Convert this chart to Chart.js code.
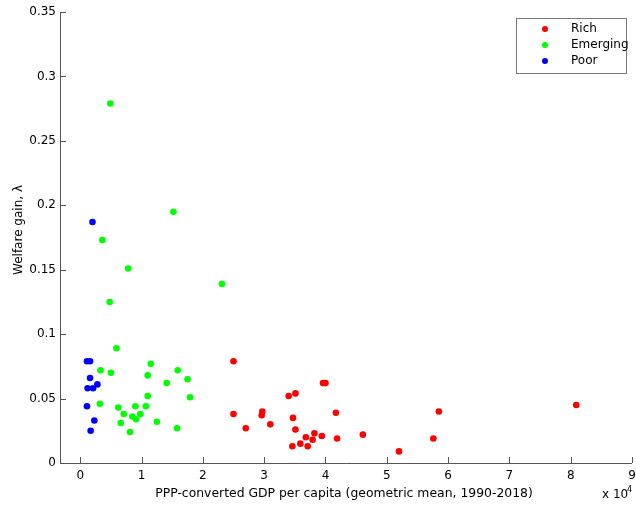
<!DOCTYPE html>
<html>
<head>
<meta charset="utf-8">
<script src="https://cdn.jsdelivr.net/npm/chart.js@4/dist/chart.umd.min.js"></script>
<style>
  html, body { margin: 0; padding: 0; background: #fff; }
  #wrap { width: 636px; height: 511px; position: relative; }
</style>
</head>
<body>
<div id="wrap"><canvas id="chart" width="636" height="511"></canvas></div>
<script>
// GDP per capita in units of 10^4, welfare gain lambda
const richX = [2.50, 2.50, 2.70, 2.97, 2.96, 3.10, 3.40, 3.51, 3.47, 3.51, 3.46, 3.59, 3.71, 3.68, 3.79, 3.82, 3.94, 3.96, 4.00, 4.17, 4.19, 4.61, 5.20, 5.76, 5.85, 8.09];
const richY = [0.079, 0.038, 0.027, 0.040, 0.037, 0.030, 0.052, 0.054, 0.035, 0.026, 0.013, 0.015, 0.013, 0.020, 0.018, 0.023, 0.021, 0.062, 0.062, 0.039, 0.019, 0.022, 0.009, 0.019, 0.040, 0.045];

const emergingX = [0.49, 1.52, 0.36, 0.78, 0.48, 2.31, 0.59, 0.33, 0.50, 1.15, 1.10, 1.59, 1.75, 1.41, 1.79, 1.10, 0.32, 0.62, 0.90, 1.07, 0.71, 0.85, 0.98, 0.91, 0.66, 1.25, 0.81, 1.58];
const emergingY = [0.279, 0.195, 0.173, 0.151, 0.125, 0.139, 0.089, 0.072, 0.070, 0.077, 0.068, 0.072, 0.065, 0.062, 0.051, 0.052, 0.046, 0.043, 0.044, 0.044, 0.038, 0.036, 0.038, 0.034, 0.031, 0.032, 0.024, 0.027];

const poorX = [0.11, 0.16, 0.16, 0.12, 0.21, 0.28, 0.11, 0.23, 0.17, 0.20];
const poorY = [0.079, 0.079, 0.066, 0.058, 0.058, 0.061, 0.044, 0.033, 0.025, 0.187];

const xTicks = [0, 1, 2, 3, 4, 5, 6, 7, 8, 9];
const yTicks = [0, 0.05, 0.1, 0.15, 0.2, 0.25, 0.3, 0.35];

const FONT = '"DejaVu Sans", sans-serif';
const AXIS = '#555';

function pts(xs, ys) {
  return xs.map((x, i) => ({ x: x, y: ys[i] }));
}

function set(label, xs, ys, color) {
  return {
    label: label,
    data: pts(xs, ys),
    backgroundColor: color,
    borderColor: color,
    pointRadius: 3.3,
    pointBorderWidth: 0,
  };
}

// inward ticks, titles, legend box
const decor = {
  id: 'decor',
  afterDraw(chart) {
    const c = chart.ctx;
    const a = chart.chartArea;
    const sx = chart.scales.x, sy = chart.scales.y;
    c.save();
    c.strokeStyle = AXIS;
    c.lineWidth = 1;
    c.beginPath();
    c.moveTo(a.left + 0.5, a.top);
    c.lineTo(a.left + 0.5, a.bottom + 0.5);
    c.lineTo(a.right, a.bottom + 0.5);
    xTicks.forEach(v => {
      const px = Math.round(sx.getPixelForValue(v)) + 0.5;
      c.moveTo(px, a.bottom);
      c.lineTo(px, a.bottom - 6);
    });
    yTicks.forEach(v => {
      const py = Math.round(sy.getPixelForValue(v)) + 0.5;
      c.moveTo(a.left, py);
      c.lineTo(a.left + 6, py);
    });
    c.stroke();

    c.fillStyle = '#000';
    c.font = '12.4px ' + FONT;
    c.textAlign = 'center';
    c.textBaseline = 'middle';
    c.fillText('PPP-converted GDP per capita (geometric mean, 1990-2018)', 344, 494);
    c.textAlign = 'left';
    c.font = '12px ' + FONT;
    c.fillText('x 10', 602, 495);
    c.font = '8px ' + FONT;
    c.fillText('4', 627, 490);

    c.save();
    c.translate(19, 230);
    c.rotate(-Math.PI / 2);
    c.font = '12px ' + FONT;
    c.textAlign = 'center';
    c.fillText('Welfare gain, λ', 0, 0);
    c.restore();

    // legend
    c.fillStyle = '#fff';
    c.fillRect(516, 18, 110, 55);
    c.strokeStyle = '#777';
    c.strokeRect(516.5, 18.5, 110, 55);
    c.font = '12px ' + FONT;
    c.textAlign = 'left';
    chart.data.datasets.forEach((ds, i) => {
      const y = 29 + i * 16;
      c.fillStyle = ds.backgroundColor;
      c.beginPath();
      c.arc(545, y, 3, 0, Math.PI * 2);
      c.fill();
      c.fillStyle = '#000';
      c.fillText(ds.label, 571, y);
    });
    c.restore();
  }
};

new Chart(document.getElementById('chart'), {
  type: 'scatter',
  data: {
    datasets: [
      set('Rich', richX, richY, '#ff0000'),
      set('Emerging', emergingX, emergingY, '#00ff00'),
      set('Poor', poorX, poorY, '#0000ff'),
    ]
  },
  options: {
    responsive: false,
    animation: false,
    layout: { padding: { top: 12, right: 4, left: 0, bottom: 0 } },
    plugins: { legend: { display: false }, tooltip: { enabled: false } },
    scales: {
      x: {
        type: 'linear',
        min: -0.33,
        max: 9,
        afterBuildTicks: s => { s.ticks = xTicks.map(v => ({ value: v })); },
        afterFit: s => { s.height = 48; s.paddingLeft = 0; s.paddingRight = 0; },
        grid: { display: false, drawTicks: false },
        border: { display: false },
        ticks: { color: '#000', font: { family: FONT, size: 12 }, padding: 6, maxRotation: 0, callback: v => String(v) },
      },
      y: {
        type: 'linear',
        min: 0,
        max: 0.35,
        afterBuildTicks: s => { s.ticks = yTicks.map(v => ({ value: v })); },
        afterFit: s => { s.width = 60; s.paddingTop = 0; s.paddingBottom = 0; },
        grid: { display: false, drawTicks: false },
        border: { display: false },
        ticks: { color: '#000', font: { family: FONT, size: 12 }, padding: 4, callback: v => String(v) },
      }
    }
  },
  plugins: [decor]
});
</script>
</body>
</html>
